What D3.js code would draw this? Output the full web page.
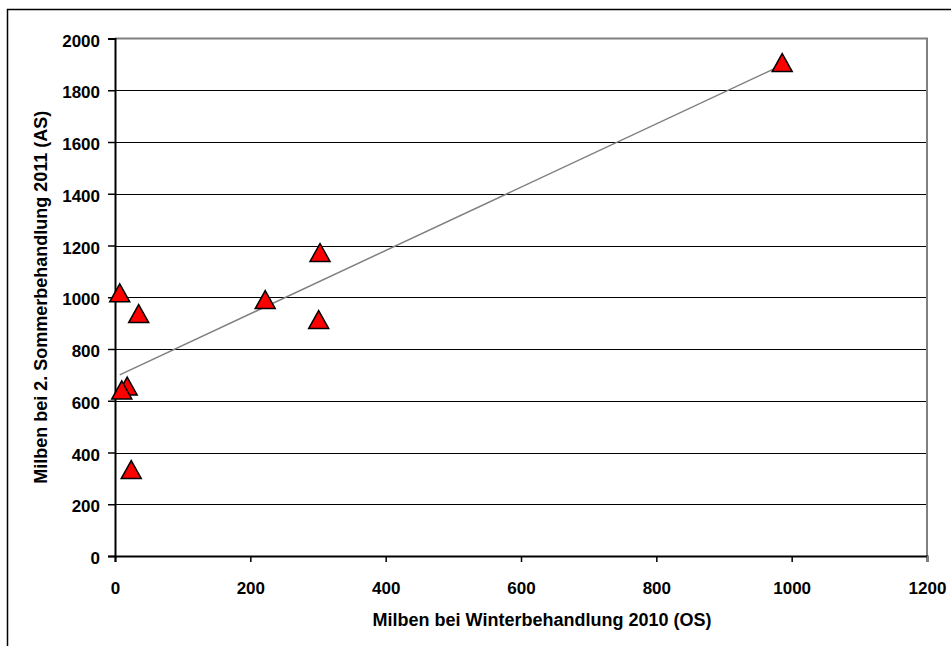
<!DOCTYPE html>
<html><head><meta charset="utf-8">
<script src="https://cdn.jsdelivr.net/npm/d3@7/dist/d3.min.js"></script>
<style>body{margin:0;background:#fff}svg{display:block}text{font-family:"Liberation Sans",Arial,sans-serif;font-weight:bold}</style>
</head><body>
<script>
const winterMites = [7, 35, 18, 10, 24, 222, 303, 301, 986];
const summerMites = [1015, 935, 655, 640, 332, 989, 1171, 912, 1905];
const xTicks = [0, 200, 400, 600, 800, 1000, 1200];
const yTicks = [0, 200, 400, 600, 800, 1000, 1200, 1400, 1600, 1800, 2000];
const xTitle = "Milben bei Winterbehandlung 2010 (OS)";
const yTitle = "Milben bei 2. Sommerbehandlung 2011 (AS)";

const W = 951, H = 646;
const m = {left:115, top:38.5, right:927, bottom:556};
const svg = d3.select("body").append("svg").attr("width", W).attr("height", H);
svg.append("rect").attr("x",7.5).attr("y",9.5).attr("width",1000).attr("height",700)
  .attr("fill","#fff").attr("stroke","#000").attr("stroke-width",1.5);

const x = d3.scaleLinear().domain([0,1200]).range([m.left, m.right]);
const y = d3.scaleLinear().domain([0,2000]).range([m.bottom, m.top]);

// gridlines
svg.append("g").selectAll("line").data(yTicks.filter(d=>d>0 && d<2000)).join("line")
  .attr("x1", m.left).attr("x2", m.right).attr("y1", d=>Math.round(y(d))+0.5).attr("y2", d=>Math.round(y(d))+0.5)
  .attr("stroke","#000").attr("stroke-width",1);
// plot area top/right border gray
svg.append("path").attr("d", `M${m.left},${y(2000)}H${x(1200)}V${m.bottom}`)
  .attr("fill","none").attr("stroke","#808080").attr("stroke-width",2);

// axes
const yAxis = d3.axisLeft(y).tickValues(yTicks).tickSize(7).tickPadding(8).tickFormat(d3.format("d"));
const gy = svg.append("g").attr("transform",`translate(${m.left},0)`).call(yAxis);
const xAxis = d3.axisBottom(x).tickValues(xTicks).tickSize(6).tickPadding(20).tickFormat(d3.format("d"));
const gx = svg.append("g").attr("transform",`translate(0,${m.bottom})`).call(xAxis);
[gx, gy].forEach(g=>{
  g.select(".domain").attr("stroke","#000").attr("stroke-width",2);
  g.selectAll(".tick line").attr("stroke","#000").attr("stroke-width",1.5);
  g.selectAll(".tick text").attr("fill","#000").style("font-size","17px").style("font-family","Liberation Sans, Arial, sans-serif").style("font-weight","bold");
});
gy.selectAll(".tick text").attr("dy","0.45em");
gx.select(".tick:last-of-type line").attr("stroke","#808080");

// trend line (least squares)
const n = winterMites.length;
const mx = d3.mean(winterMites), my = d3.mean(summerMites);
let sxy=0, sxx=0;
for (let i=0;i<n;i++){ sxy += (winterMites[i]-mx)*(summerMites[i]-my); sxx += (winterMites[i]-mx)**2; }
const slope = sxy/sxx, icpt = my - slope*mx;
const x0 = d3.min(winterMites), x1 = d3.max(winterMites);
svg.append("line").attr("x1",x(x0)).attr("y1",y(icpt+slope*x0)).attr("x2",x(x1)).attr("y2",y(icpt+slope*x1))
  .attr("stroke","#808080").attr("stroke-width",1.5);

// markers
const tri = "M0,-9.5L10,8.5L-10,8.5Z";
svg.append("g").selectAll("path").data(winterMites.map((d,i)=>[d,summerMites[i]])).join("path")
  .attr("d", tri).attr("transform", d=>`translate(${x(d[0])},${y(d[1])})`)
  .attr("fill","#ff0000").attr("stroke","#000").attr("stroke-width",1.5).attr("stroke-linejoin","miter");

// titles
svg.append("text").attr("x", 542).attr("y", 626).attr("text-anchor","middle")
  .style("font-size","18px").text(xTitle);
svg.append("text").attr("transform",`translate(47,${(m.top+m.bottom)/2}) rotate(-90)`).attr("text-anchor","middle")
  .style("font-size","18px").text(yTitle);
</script>
</body></html>
